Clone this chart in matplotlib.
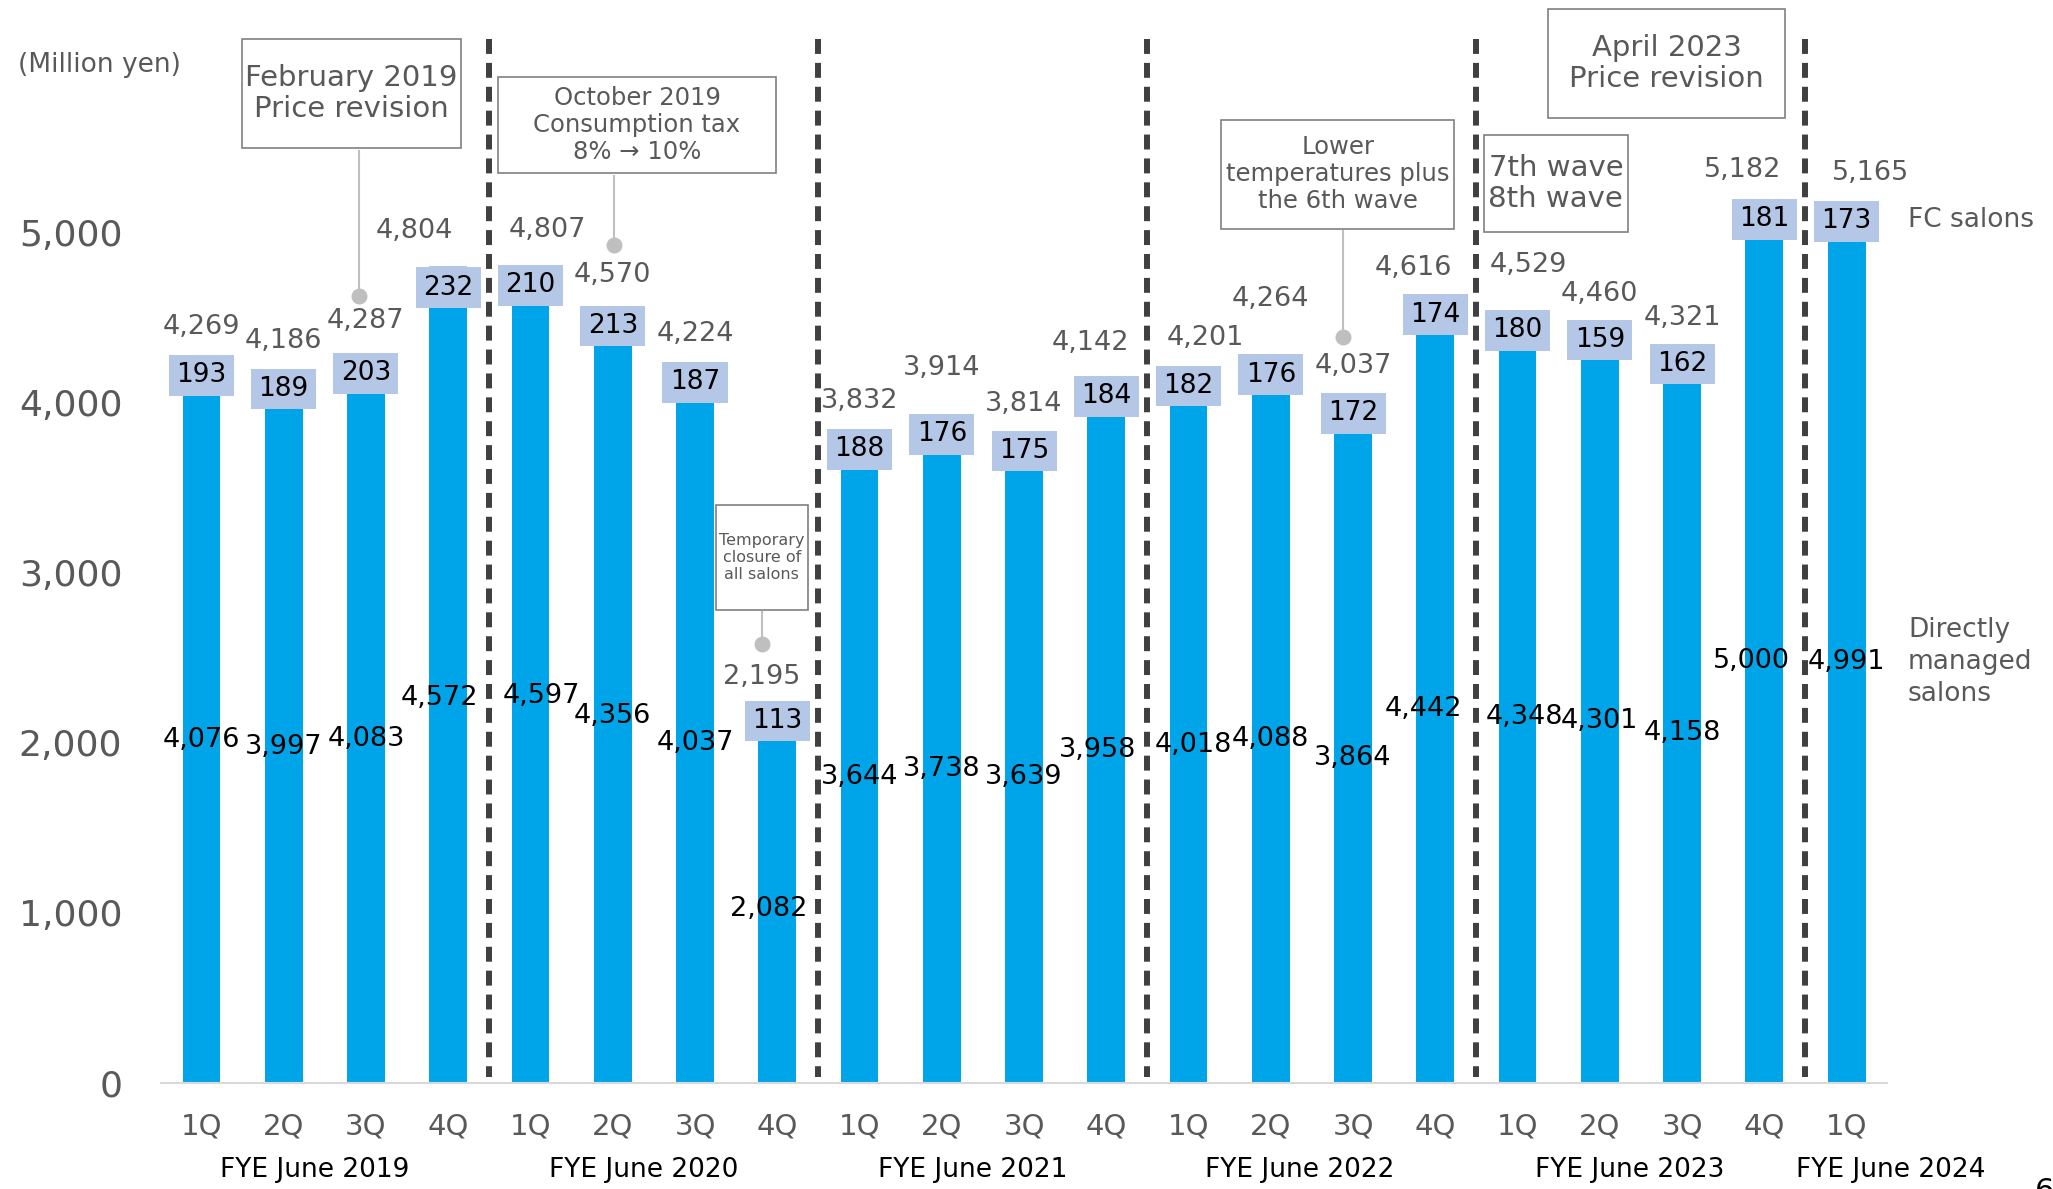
import matplotlib.pyplot as plt
from matplotlib.patches import Rectangle

# quarterly sales (million yen)
quarters = ["1Q", "2Q", "3Q", "4Q"] * 5 + ["1Q"]
years = ["FYE June 2019", "FYE June 2020", "FYE June 2021",
         "FYE June 2022", "FYE June 2023", "FYE June 2024"]
direct = [4076, 3997, 4083, 4572,
          4597, 4356, 4037, 2082,
          3644, 3738, 3639, 3958,
          4018, 4088, 3864, 4442,
          4348, 4301, 4158, 5000,
          4991]
fc = [193, 189, 203, 232,
      210, 213, 187, 113,
      188, 176, 175, 184,
      182, 176, 172, 174,
      180, 159, 162, 181,
      173]
total = [4269, 4186, 4287, 4804,
         4807, 4570, 4224, 2195,
         3832, 3914, 3814, 4142,
         4201, 4264, 4037, 4616,
         4529, 4460, 4321, 5182,
         5165]

# label nudges (bar units / yen units), as laid out on the slide
total_dx = [0, 0, 0, -0.41, 0.21, 0, 0, -0.19, 0, 0, 0, -0.19,
            0.21, 0, 0, -0.27, 0.13, 0, 0, -0.27, 0.29]
total_dy = [0, 0, 15, 25, 28, 0, 0, 13, 0, 110, 0, 30,
            0, 170, 0, 0, 105, 0, 0, 8, 8]
direct_dx = [0, 0, 0, -0.11, 0.13, 0, 0, -0.11, 0, 0, 0, -0.11,
             0.06, 0, 0, -0.14, 0.08, 0, 0, -0.16, 0]
group_x = [1.38, 5.38, 9.37, 13.35, 17.36, 20.53]

BLUE = "#00A5E9"
LIGHT = "#B4C7E7"
GRAY = "#595959"

plt.rcParams["font.family"] = "DejaVu Sans"

fig = plt.figure(figsize=(20.53, 11.89), dpi=100)
ax = fig.add_axes([0.0785, 0.0892, 0.8406, 0.8579])

x = list(range(len(direct)))
ax.bar(x, direct, width=0.46, color=BLUE, zorder=2)
ax.bar(x, fc, bottom=direct, width=0.46, color=LIGHT, zorder=2)

for i in x:
    ax.text(i + direct_dx[i], direct[i] / 2 - 20, f"{direct[i]:,}", ha="center", va="center",
            fontsize=19.5, color="black", zorder=4)
    ax.text(i, direct[i] + fc[i] / 2 - 10, f"{fc[i]:,}", ha="center", va="center",
            fontsize=19, color="black", zorder=4,
            bbox=dict(boxstyle="square,pad=0.28", fc=LIGHT, ec="none"))
    ax.text(i + total_dx[i], total[i] + 180 + total_dy[i], f"{total[i]:,}", ha="center",
            va="center", fontsize=19.5, color=GRAY, zorder=4)

# fiscal year separators
for sx in [3.5, 7.5, 11.5, 15.5, 19.5]:
    ax.plot([sx, sx], [6141, 35], color="#404040", lw=4.3, dashes=(2.5, 1.5),
            clip_on=False, zorder=3)

# annotation boxes: (x0, x1, y0, y1, text, fontsize)
boxes = [
    (0.49, 3.15, 5500, 6141, "February 2019\nPrice revision", 21),
    (3.61, 6.98, 5353, 5918, "October 2019\nConsumption tax\n8% \u2192 10%", 17.5),
    (6.25, 7.37, 2782, 3400, "Temporary\nclosure of\nall salons", 11.5),
    (12.40, 15.23, 5024, 5665, "Lower\ntemperatures plus\nthe 6th wave", 17.5),
    (15.59, 17.34, 5006, 5576, "7th wave\n8th wave", 21),
    (16.37, 19.25, 5676, 6318, "April 2023\nPrice revision", 21),
]
for x0, x1, y0, y1, txt, fs in boxes:
    ax.add_patch(Rectangle((x0, y0), x1 - x0, y1 - y0, fill=False, ec="#808080",
                           lw=1.2, clip_on=False, zorder=3))
    ax.text((x0 + x1) / 2, (y0 + y1) / 2, txt, ha="center", va="center",
            fontsize=fs, color=GRAY, linespacing=1.15, clip_on=False)

# connectors from boxes to the bars: (x, box bottom, dot y)
connectors = [(1.92, 5480, 4629), (5.02, 5335, 4929), (6.82, 2770, 2582), (13.88, 5010, 4388)]
for cx, top, dot in connectors:
    ax.plot([cx, cx], [top, dot], color="#BFBFBF", lw=1.5, clip_on=False, zorder=3)
    ax.plot(cx, dot, "o", color="#BFBFBF", ms=11.5, mec="none", clip_on=False, zorder=3)

# axes styling
ax.set_xlim(-0.49, 20.49)
ax.set_ylim(0, 6000)
ax.set_yticks(range(0, 6000, 1000))
ax.set_yticklabels([f"{v:,}" for v in range(0, 6000, 1000)])
ax.set_xticks(x)
ax.set_xticklabels(quarters)
ax.tick_params(axis="y", length=0, pad=28, labelsize=26, labelcolor=GRAY)
ax.tick_params(axis="x", length=0, pad=21, labelsize=21, labelcolor=GRAY)
for s in ["top", "right", "left"]:
    ax.spines[s].set_visible(False)
ax.spines["bottom"].set_color("#D9D9D9")
ax.spines["bottom"].set_linewidth(1.5)

for gx, yr in zip(group_x, years):
    ax.text(gx, -512, yr, ha="center", va="center", fontsize=19, color="black", clip_on=False)

fig.text(1908 / 2053, 1 - 220 / 1189, "FC salons", fontsize=19, color=GRAY,
         va="center", ha="left")
fig.text(1908 / 2053, 1 - 662 / 1189, "Directly\nmanaged\nsalons", fontsize=19,
         color=GRAY, va="center", ha="left", linespacing=1.3)
fig.text(18 / 2053, 1 - 65 / 1189, "(Million yen)", fontsize=19, color=GRAY,
         va="center", ha="left")
fig.text(2035 / 2053, 1 - 1177 / 1189, "6", fontsize=22, color="black", va="top", ha="left")

fig.savefig("out.png", dpi=100)
